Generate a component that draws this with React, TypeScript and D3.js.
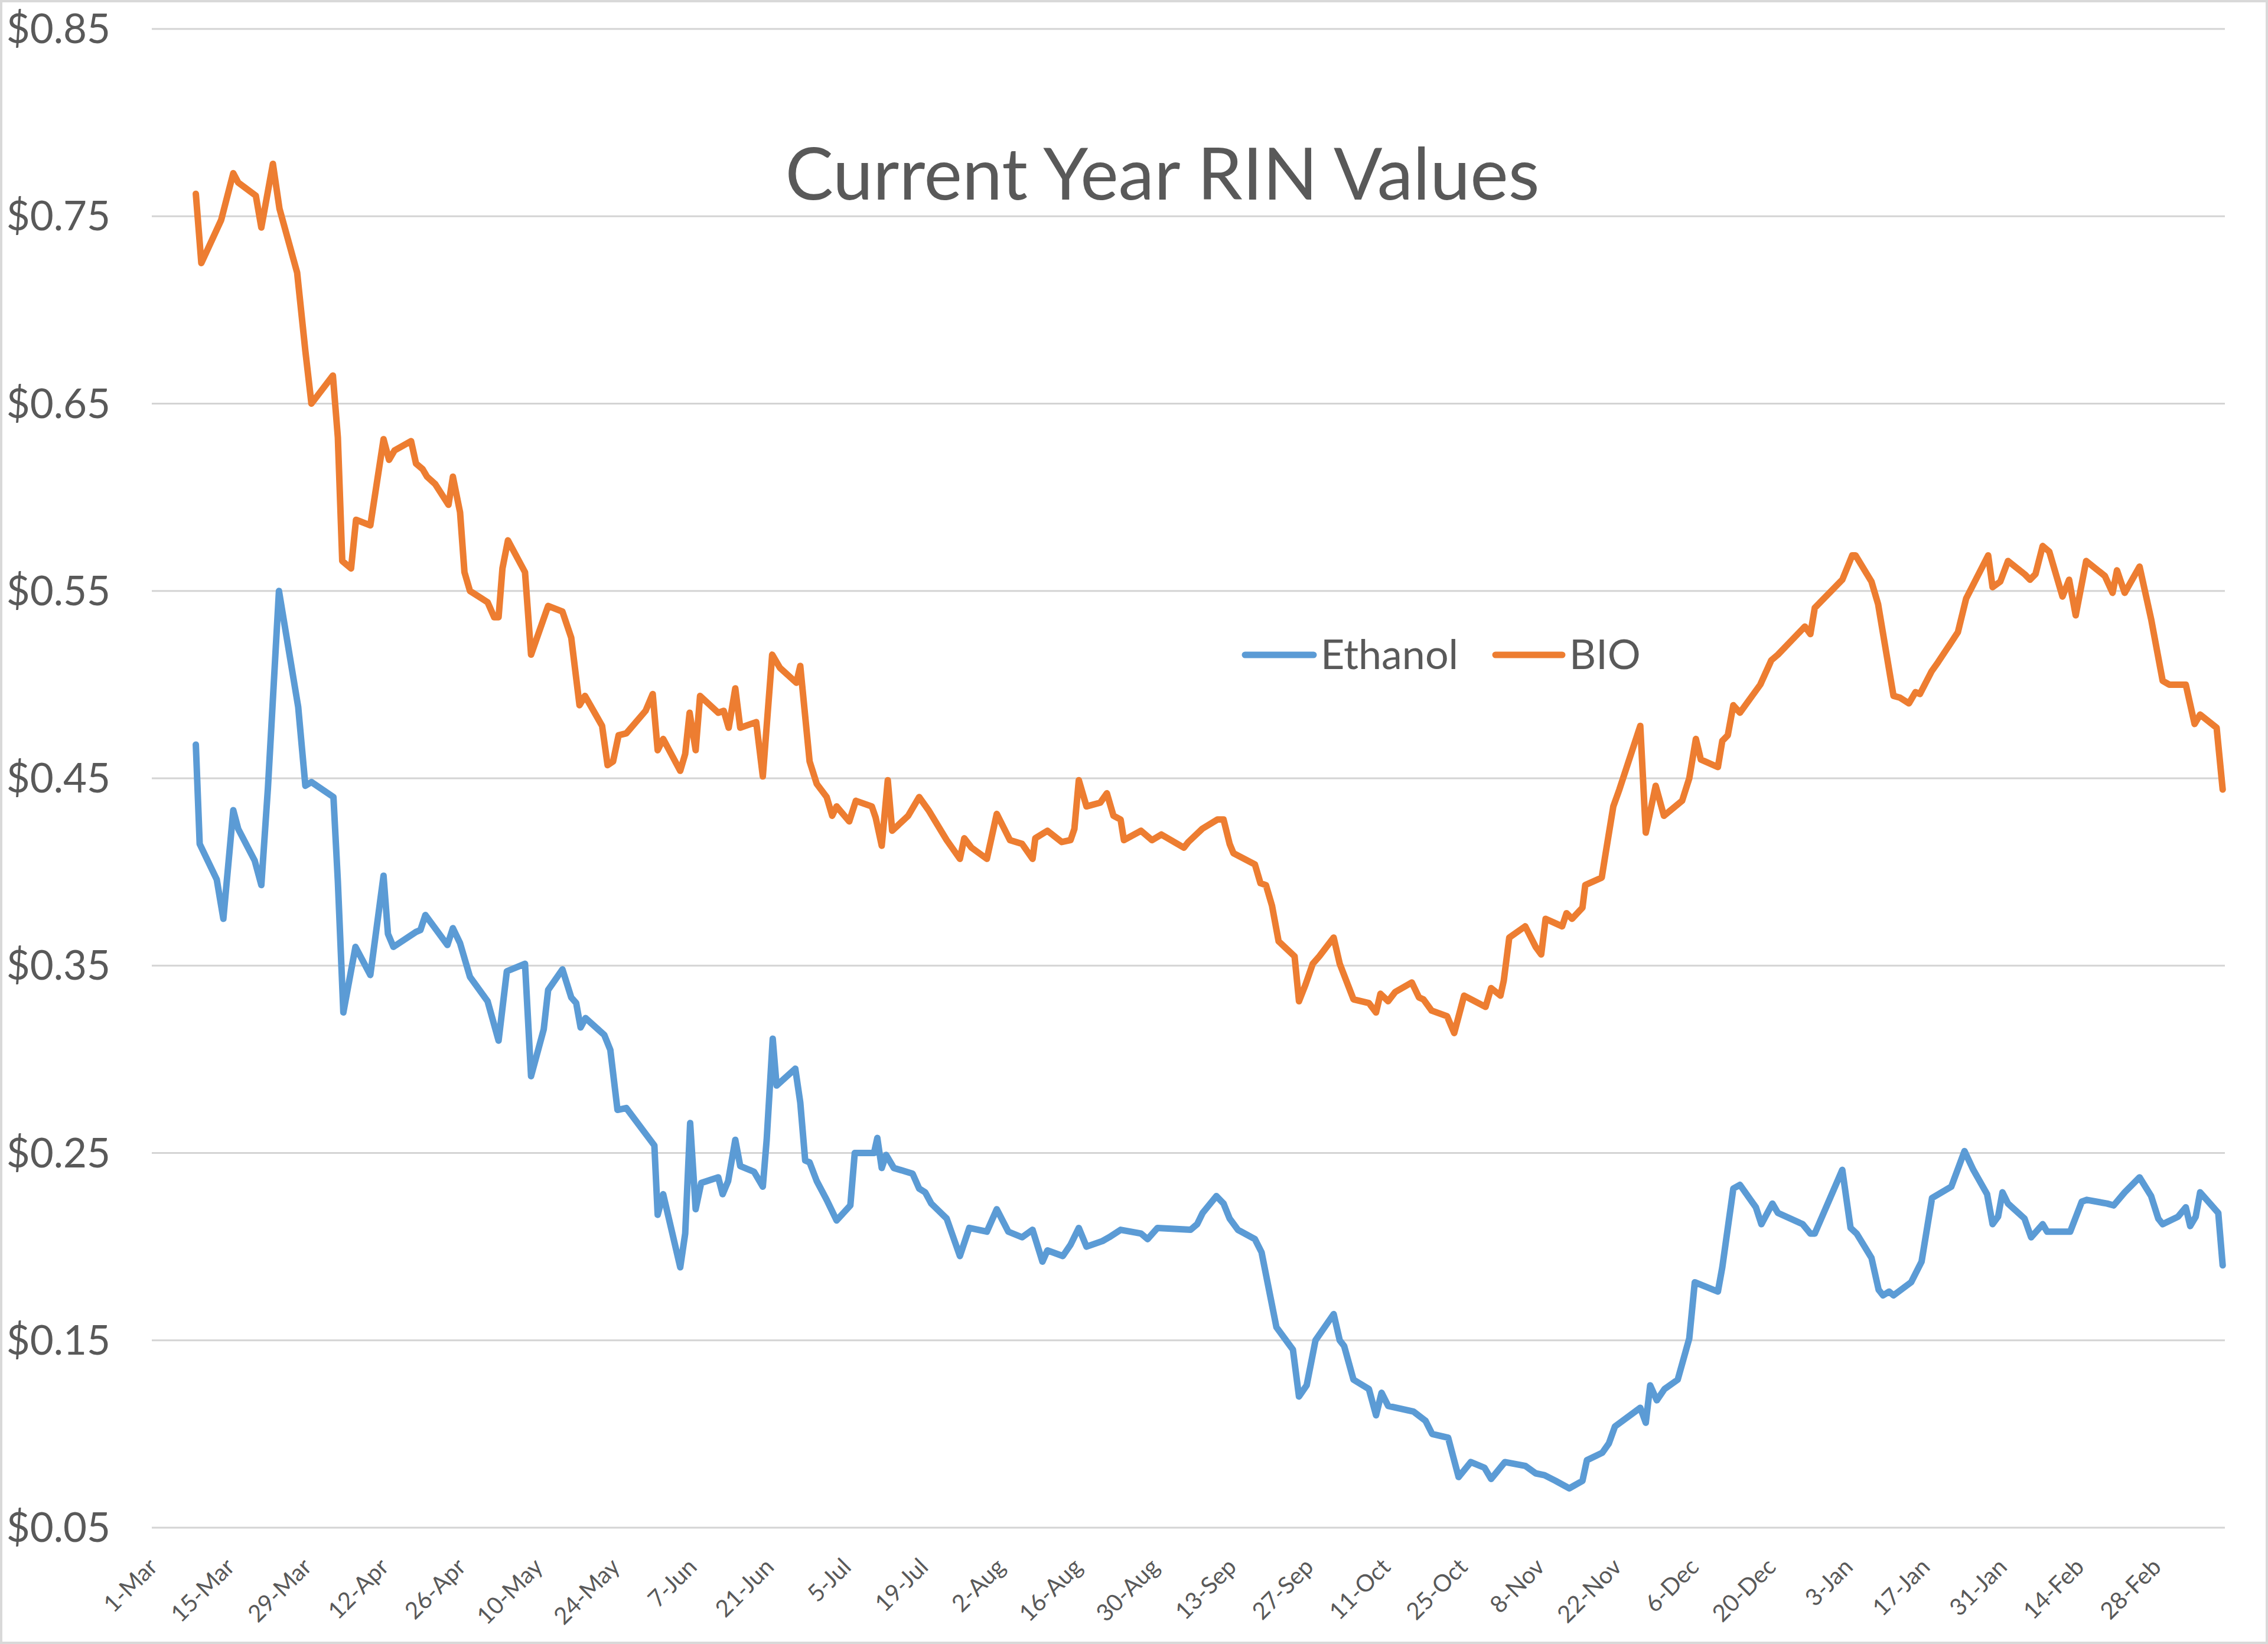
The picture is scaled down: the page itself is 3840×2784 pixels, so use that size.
import React from 'react';
import * as d3 from 'd3';

// ---------- data ----------
const chartTitle = 'Current Year RIN Values';
const seriesNames = ['Ethanol', 'BIO'];
const seriesColors = ['#5B9BD5', '#ED7D31'];

// y axis ticks (USD per RIN)
const yTickValues = [0.05, 0.15, 0.25, 0.35, 0.45, 0.55, 0.65, 0.75, 0.85];

// x axis: days since 1-Mar (2016); tick every 14 days
const xTickDays = [0, 14, 28, 42, 56, 70, 84, 98, 112, 126, 140, 154, 168, 182, 196, 210, 224, 238, 252, 266, 280, 294, 308, 322, 336, 350, 364];
const xTickLabels = ['1-Mar', '15-Mar', '29-Mar', '12-Apr', '26-Apr', '10-May', '24-May', '7-Jun', '21-Jun', '5-Jul', '19-Jul', '2-Aug', '16-Aug', '30-Aug', '13-Sep', '27-Sep', '11-Oct', '25-Oct', '8-Nov', '22-Nov', '6-Dec', '20-Dec', '3-Jan', '17-Jan', '31-Jan', '14-Feb', '28-Feb'];
const xDomainDays = [0, 376.6];

// Ethanol RIN (D6) — day offset, value
const ethanolDays = [8.0, 8.7, 11.8, 13.0, 14.8, 15.7, 18.7, 19.9, 21.1, 23.1, 26.6, 27.9, 29.0, 33.0, 33.8, 34.8, 37.0, 39.7, 42.1, 42.9, 43.9, 48.0, 48.8, 49.7, 53.7, 54.7, 56.0, 57.8, 61.0, 63.0, 64.5, 67.8, 68.9, 71.2, 72.0, 74.6, 76.2, 77.1, 77.9, 78.8, 82.2, 83.3, 84.6, 86.2, 91.3, 91.9, 92.9, 96.0, 96.9, 97.8, 98.8, 99.8, 102.9, 103.7, 104.7, 106.0, 106.9, 109.4, 111.0, 111.7, 112.8, 113.5, 116.9, 117.8, 118.7, 119.5, 120.8, 122.6, 124.4, 126.9, 127.7, 131.2, 131.8, 132.6, 133.4, 134.8, 138.2, 139.4, 140.5, 141.6, 144.4, 146.8, 148.5, 151.7, 153.5, 155.6, 158.1, 160.0, 161.8, 162.7, 165.5, 166.9, 168.4, 169.8, 172.7, 173.9, 176.0, 179.7, 180.9, 182.7, 188.7, 189.9, 190.9, 193.4, 194.7, 195.8, 197.3, 200.4, 201.6, 204.3, 207.3, 208.4, 209.8, 211.4, 214.7, 215.8, 216.6, 218.3, 221.1, 222.4, 223.4, 224.6, 229.2, 231.4, 232.6, 235.5, 237.4, 239.6, 242.1, 243.3, 245.8, 249.5, 251.4, 253.0, 255.0, 257.5, 259.9, 260.7, 263.5, 264.7, 265.8, 270.4, 271.4, 272.2, 273.4, 274.8, 277.2, 279.3, 280.3, 284.5, 285.3, 287.3, 288.5, 291.4, 292.4, 294.4, 295.4, 299.9, 301.3, 302.1, 307.1, 308.6, 309.7, 312.4, 313.7, 314.5, 315.6, 316.4, 319.6, 321.5, 323.4, 326.9, 329.3, 330.9, 333.4, 334.4, 335.4, 336.2, 337.2, 340.2, 341.4, 343.5, 344.3, 348.5, 350.6, 351.5, 355.2, 356.4, 358.4, 361.1, 363.2, 364.5, 365.3, 368.1, 369.5, 370.3, 371.3, 372.1, 375.4, 376.2];
const ethanolValues = [0.468, 0.415, 0.396, 0.375, 0.433, 0.423, 0.406, 0.393, 0.445, 0.550, 0.488, 0.446, 0.448, 0.440, 0.395, 0.325, 0.360, 0.345, 0.398, 0.367, 0.360, 0.368, 0.369, 0.377, 0.361, 0.370, 0.362, 0.344, 0.331, 0.310, 0.347, 0.351, 0.291, 0.316, 0.337, 0.348, 0.333, 0.330, 0.317, 0.322, 0.313, 0.305, 0.273, 0.274, 0.254, 0.217, 0.228, 0.189, 0.207, 0.266, 0.220, 0.234, 0.237, 0.228, 0.235, 0.257, 0.243, 0.240, 0.232, 0.257, 0.311, 0.286, 0.295, 0.277, 0.246, 0.245, 0.235, 0.225, 0.214, 0.222, 0.250, 0.250, 0.258, 0.242, 0.249, 0.242, 0.239, 0.231, 0.229, 0.223, 0.215, 0.195, 0.210, 0.208, 0.220, 0.208, 0.205, 0.209, 0.192, 0.198, 0.195, 0.201, 0.210, 0.200, 0.203, 0.205, 0.209, 0.207, 0.204, 0.210, 0.209, 0.212, 0.218, 0.227, 0.223, 0.215, 0.209, 0.204, 0.197, 0.157, 0.145, 0.120, 0.126, 0.150, 0.164, 0.150, 0.147, 0.129, 0.124, 0.110, 0.122, 0.115, 0.112, 0.107, 0.100, 0.098, 0.077, 0.085, 0.082, 0.076, 0.085, 0.083, 0.079, 0.078, 0.075, 0.071, 0.075, 0.086, 0.090, 0.095, 0.104, 0.114, 0.106, 0.126, 0.118, 0.124, 0.129, 0.151, 0.181, 0.176, 0.189, 0.231, 0.233, 0.221, 0.212, 0.223, 0.218, 0.212, 0.207, 0.207, 0.241, 0.210, 0.207, 0.194, 0.177, 0.174, 0.176, 0.174, 0.181, 0.192, 0.226, 0.232, 0.251, 0.241, 0.228, 0.212, 0.216, 0.229, 0.223, 0.215, 0.205, 0.212, 0.208, 0.208, 0.224, 0.225, 0.223, 0.222, 0.229, 0.237, 0.227, 0.215, 0.212, 0.216, 0.221, 0.211, 0.216, 0.229, 0.218, 0.190];

// Biodiesel RIN (D4) — day offset, value
const bioDays = [8.0, 9.0, 12.6, 14.8, 15.7, 18.9, 19.9, 22.0, 23.2, 26.4, 27.9, 29.0, 32.9, 33.8, 34.6, 36.2, 37.1, 39.7, 42.1, 43.1, 44.1, 47.1, 48.0, 49.2, 50.0, 51.5, 53.9, 54.7, 56.0, 56.8, 57.8, 61.0, 62.2, 63.0, 63.7, 64.7, 67.8, 68.9, 72.0, 74.6, 76.2, 77.7, 78.7, 81.8, 82.8, 83.8, 84.8, 86.2, 89.7, 91.0, 91.9, 92.9, 96.0, 96.9, 97.7, 98.8, 99.6, 102.9, 103.9, 104.8, 106.0, 106.9, 109.8, 111.0, 112.7, 114.1, 117.1, 117.8, 119.5, 120.8, 122.6, 123.6, 124.4, 126.7, 127.9, 130.8, 131.5, 132.6, 133.7, 134.5, 137.4, 139.4, 141.1, 144.4, 146.8, 147.6, 148.9, 151.7, 153.5, 155.9, 158.1, 160.0, 160.5, 162.7, 165.3, 166.9, 167.6, 168.4, 169.8, 172.3, 173.5, 174.7, 176.0, 176.6, 179.7, 181.7, 183.4, 187.5, 188.3, 190.8, 193.6, 194.7, 195.8, 196.5, 200.4, 201.4, 202.4, 203.5, 204.7, 207.6, 208.4, 209.6, 210.9, 212.1, 214.7, 215.8, 218.3, 221.1, 222.4, 223.2, 224.6, 225.9, 228.9, 230.2, 231.0, 232.5, 235.3, 236.6, 238.4, 242.3, 243.3, 245.0, 245.6, 246.6, 249.5, 251.4, 252.4, 253.2, 256.2, 257.0, 258.0, 259.9, 260.4, 263.4, 264.0, 265.5, 266.6, 270.4, 271.4, 273.2, 274.7, 278.0, 279.3, 280.5, 281.4, 284.5, 285.3, 286.3, 287.3, 288.5, 292.2, 294.2, 295.4, 300.3, 301.3, 302.1, 307.1, 308.9, 309.5, 312.4, 313.6, 316.4, 317.6, 319.2, 320.4, 321.2, 323.3, 324.5, 328.1, 329.6, 333.6, 334.4, 335.8, 337.2, 340.2, 341.2, 342.2, 343.5, 344.7, 347.1, 348.3, 349.5, 351.4, 354.8, 356.2, 357.0, 358.4, 361.1, 363.2, 365.3, 366.5, 369.5, 371.1, 372.1, 375.1, 376.2];
const bioValues = [0.762, 0.725, 0.748, 0.773, 0.768, 0.761, 0.744, 0.778, 0.754, 0.720, 0.678, 0.650, 0.665, 0.632, 0.566, 0.562, 0.588, 0.585, 0.631, 0.620, 0.625, 0.630, 0.618, 0.615, 0.611, 0.607, 0.596, 0.611, 0.592, 0.560, 0.550, 0.544, 0.536, 0.536, 0.562, 0.577, 0.560, 0.516, 0.542, 0.539, 0.525, 0.489, 0.494, 0.478, 0.457, 0.459, 0.473, 0.474, 0.486, 0.495, 0.465, 0.471, 0.454, 0.463, 0.485, 0.465, 0.494, 0.485, 0.486, 0.477, 0.498, 0.477, 0.480, 0.451, 0.516, 0.509, 0.501, 0.510, 0.459, 0.447, 0.440, 0.430, 0.435, 0.427, 0.438, 0.435, 0.429, 0.414, 0.449, 0.422, 0.430, 0.440, 0.433, 0.417, 0.407, 0.418, 0.413, 0.407, 0.431, 0.417, 0.415, 0.407, 0.418, 0.422, 0.416, 0.417, 0.423, 0.449, 0.435, 0.437, 0.442, 0.430, 0.428, 0.417, 0.422, 0.417, 0.420, 0.413, 0.416, 0.423, 0.428, 0.428, 0.415, 0.410, 0.404, 0.394, 0.393, 0.382, 0.363, 0.355, 0.331, 0.340, 0.351, 0.355, 0.365, 0.351, 0.332, 0.330, 0.325, 0.335, 0.331, 0.336, 0.341, 0.333, 0.332, 0.326, 0.323, 0.314, 0.334, 0.328, 0.338, 0.334, 0.342, 0.365, 0.371, 0.360, 0.356, 0.375, 0.371, 0.378, 0.375, 0.381, 0.393, 0.397, 0.408, 0.435, 0.444, 0.478, 0.421, 0.446, 0.430, 0.438, 0.450, 0.471, 0.460, 0.456, 0.470, 0.473, 0.489, 0.485, 0.500, 0.513, 0.516, 0.531, 0.527, 0.541, 0.556, 0.569, 0.569, 0.555, 0.543, 0.494, 0.493, 0.490, 0.496, 0.495, 0.507, 0.512, 0.528, 0.546, 0.569, 0.552, 0.555, 0.566, 0.559, 0.556, 0.559, 0.574, 0.571, 0.547, 0.556, 0.537, 0.566, 0.558, 0.549, 0.561, 0.549, 0.563, 0.535, 0.502, 0.500, 0.500, 0.479, 0.484, 0.477, 0.444];

// ---------- layout ----------
const W = 3840;
const H = 2784;
const plot = { left: 257, right: 3767, top: 49, bottom: 2587 };
const FONT = 'Lato, "Open Sans", "DejaVu Sans", sans-serif';
const TEXT = '#595959';
const GRID = '#d4d4d4';

export default function App() {
  const x = d3.scaleLinear().domain(xDomainDays).range([plot.left, plot.right]);
  const y = d3.scaleLinear().domain([0.05, 0.85]).range([plot.bottom, plot.top]);

  const line = d3
    .line<[number, number]>()
    .x((d) => x(d[0]))
    .y((d) => y(d[1]))
    .curve(d3.curveLinear);

  const ethanol: [number, number][] = ethanolDays.map((d, i) => [d, ethanolValues[i]]);
  const bio: [number, number][] = bioDays.map((d, i) => [d, bioValues[i]]);
  const series = [ethanol, bio];

  const fmt = (v: number) => '$' + d3.format('.2f')(v);

  return (
    <svg
      width={W}
      height={H}
      viewBox={`0 0 ${W} ${H}`}
      style={{ position: 'absolute', left: 0, top: 0, display: 'block', background: '#fff' }}
      fontFamily={FONT}
    >
      <rect x={0} y={0} width={W} height={H} fill="#ffffff" />
      <rect x={2} y={2} width={W - 4} height={H - 4} fill="none" stroke="#d9d9d9" strokeWidth={4} />

      {/* gridlines */}
      {yTickValues.map((v) => (
        <line key={'g' + v} x1={plot.left} x2={plot.right} y1={y(v)} y2={y(v)} stroke={GRID} strokeWidth={3} />
      ))}

      {/* y tick labels */}
      {yTickValues.map((v) => (
        <text key={'yl' + v} x={187} y={y(v) + 24} textAnchor="end" fontSize={69} fill={TEXT}>
          {fmt(v)}
        </text>
      ))}

      {/* x tick labels */}
      {xTickDays.map((d, i) => (
        <text
          key={'xl' + d}
          transform={`translate(${x(d) + 12}, 2656) rotate(-45)`}
          textAnchor="end"
          fontSize={40}
          fill={TEXT}
        >
          {xTickLabels[i]}
        </text>
      ))}

      {/* series */}
      {series.map((s, i) => (
        <path
          key={seriesNames[i]}
          d={line(s) || ''}
          fill="none"
          stroke={seriesColors[i]}
          strokeWidth={11}
          strokeLinejoin="round"
          strokeLinecap="round"
        />
      ))}

      {/* title */}
      <text x={1968} y={338} textAnchor="middle" fontSize={122} fill={TEXT} textLength={1277} lengthAdjust="spacingAndGlyphs">
        {chartTitle}
      </text>

      {/* legend */}
      <g>
        <line x1={2108} x2={2224} y1={1109} y2={1109} stroke={seriesColors[0]} strokeWidth={11} strokeLinecap="round" />
        <text x={2236} y={1133} fontSize={70} fill={TEXT}>
          {seriesNames[0]}
        </text>
        <line x1={2532} x2={2645} y1={1109} y2={1109} stroke={seriesColors[1]} strokeWidth={11} strokeLinecap="round" />
        <text x={2657} y={1133} fontSize={70} fill={TEXT}>
          {seriesNames[1]}
        </text>
      </g>
    </svg>
  );
}
